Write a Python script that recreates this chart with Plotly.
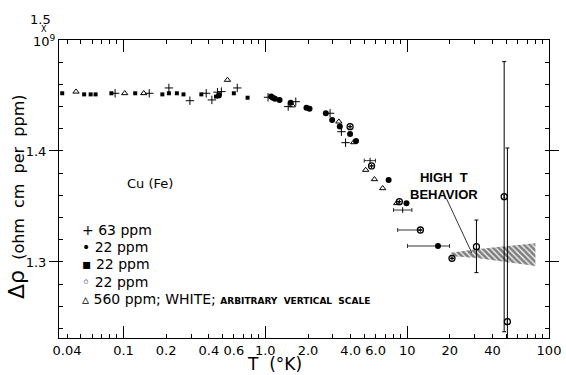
import plotly.graph_objects as go

# ---------------- data ----------------
# 22 ppm, small filled squares
sq_T = [0.037, 0.0528, 0.0587, 0.0636, 0.0822, 0.121, 0.188, 0.209, 0.238, 0.265, 0.354, 0.449, 0.600, 0.750]
sq_y = [1.452, 1.451, 1.451, 1.451, 1.452, 1.452, 1.451, 1.452, 1.452, 1.451, 1.451, 1.449, 1.452, 1.448]

# 22 ppm, filled circles
fc_T = [0.47, 1.10, 1.13, 1.17, 1.26, 1.51, 1.95, 2.05, 2.67, 2.96, 3.35, 3.96, 4.36, 7.40, 9.89, 16.5]
fc_y = [1.450, 1.449, 1.448, 1.447, 1.446, 1.4435, 1.439, 1.438, 1.434, 1.428, 1.422, 1.4153, 1.409, 1.3739, 1.3529, 1.3144]
fc_xerr_minus = [0, 0, 0, 0, 0, 0, 0, 0, 0, 0, 0, 0, 0, 0, 0, 6.45]
fc_xerr_plus = [0, 0, 0, 0, 0, 0, 0, 0, 0, 0, 0, 0, 0, 0, 0, 3.4]

# 560 ppm, open triangles
tri_T = [0.0463, 0.102, 0.139, 0.541, 1.55, 3.30, 4.20, 5.10, 5.88, 6.72, 8.44]
tri_y = [1.4534, 1.452, 1.452, 1.464, 1.441, 1.4264, 1.4078, 1.3829, 1.3745, 1.3664, 1.3529]

# 63 ppm, plus signs
plus_T = [0.0873, 0.152, 0.209, 0.294, 0.383, 0.42, 0.46, 0.49, 0.634, 1.045, 1.45, 1.64, 2.86, 3.44, 3.68]
plus_y = [1.452, 1.452, 1.4568, 1.4453, 1.452, 1.446, 1.453, 1.4535, 1.4568, 1.4484, 1.440, 1.4444, 1.434, 1.4174, 1.4075]

# 22 ppm, open circles
oc_T = [3.96, 5.61, 8.81, 12.4, 20.7, 30.8, 48.3, 50.9]
oc_y = [1.4219, 1.3865, 1.3543, 1.3288, 1.3033, 1.3138, 1.3588, 1.2462]
oc_yerr_plus = [0, 0, 0, 0, 0, 0.0240, 0.1217, 0.1565]
oc_yerr_minus = [0, 0, 0, 0, 0, 0.0234, 0.1217, 0.20]
oc_xerr_minus = [0, 0, 0, 3.83, 0, 0, 0, 0]

# free-standing temperature-uncertainty bars
xb_T = [5.48, 9.3]
xb_y = [1.3913, 1.3468]
xb_minus = [0.50, 1.28]
xb_plus = [0.50, 1.5]

# "high T behavior" band
band_T = [20.2, 30.8, 80.2]
band_hi = [1.3084, 1.3115, 1.3168]
band_lo = [1.3054, 1.3035, 1.2964]

# axis labels
x_tick_vals = [0.04, 0.1, 0.2, 0.4, 0.6, 1.0, 2.0, 4.0, 6.0, 10, 20, 40, 100]
x_tick_text = ["0.04", "0.1", "0.2", "0.4", "0.6", "1.0", "2.0", "4.0", "6.0", "10", "20", "40", "100"]
x_minor_vals = [d * m for m in (0.01, 0.1, 1, 10) for d in range(1, 10)] + [100]
x_major_marks = [0.1, 1, 10]
y_tick_vals = [1.3, 1.4]
y_tick_text = ["1.3", "1.4"]
y_minor_vals = [round(1.24 + 0.02 * i, 2) for i in range(13)]

FONT = "DejaVu Sans"
XR = [-1.4545, 2.0]
YR = [1.2315, 1.5]

fig = go.Figure()

# hatched band (drawn on overlay x axis, same scale)
fig.add_trace(go.Scatter(
    x=band_T + band_T[::-1], y=band_hi + band_lo[::-1],
    xaxis="x2", yaxis="y",
    mode="lines", fill="toself", line=dict(width=0, color="black"),
    fillcolor="rgba(0,0,0,0)",
    fillpattern=dict(shape="\\", fgcolor="black", bgcolor="rgba(0,0,0,0)",
                     size=4, solidity=0.7, fillmode="overlay"),
    hoverinfo="skip", showlegend=False))

fig.add_trace(go.Scatter(
    x=xb_T, y=xb_y, mode="markers",
    marker=dict(symbol="line-ns", size=4, line=dict(width=1, color="black")),
    error_x=dict(type="data", symmetric=False, array=xb_plus, arrayminus=xb_minus,
                 color="black", thickness=0.8, width=2),
    showlegend=False))

fig.add_trace(go.Scatter(
    x=sq_T, y=sq_y, mode="markers",
    marker=dict(symbol="square", size=4, color="black"), showlegend=False))

fig.add_trace(go.Scatter(
    x=fc_T, y=fc_y, mode="markers",
    marker=dict(symbol="circle", size=6, color="black"),
    error_x=dict(type="data", symmetric=False, array=fc_xerr_plus, arrayminus=fc_xerr_minus,
                 color="black", thickness=0.8, width=2),
    showlegend=False))

fig.add_trace(go.Scatter(
    x=tri_T, y=tri_y, mode="markers",
    marker=dict(symbol="triangle-up-open", size=5.5, color="black", line=dict(width=1)),
    showlegend=False))

fig.add_trace(go.Scatter(
    x=plus_T, y=plus_y, mode="markers",
    marker=dict(symbol="cross-thin-open", size=6, color="black", line=dict(width=1, color="black")),
    showlegend=False))

fig.add_trace(go.Scatter(
    x=oc_T, y=oc_y, mode="markers",
    marker=dict(symbol="circle-open", size=6, color="black", line=dict(width=1.3)),
    error_y=dict(type="data", symmetric=False, array=oc_yerr_plus, arrayminus=oc_yerr_minus,
                 color="black", thickness=1, width=2),
    error_x=dict(type="data", symmetric=False, array=[0] * len(oc_T), arrayminus=oc_xerr_minus,
                 color="black", thickness=0.8, width=2),
    showlegend=False))


def px(xp):
    return (xp - 59) / 502


def py(yp):
    return (338 - yp) / 298


def note(x, y, text, size, xanchor="center", family=FONT, **kw):
    d = dict(x=px(x), y=py(y), xref="paper", yref="paper", text=text, showarrow=False,
             xanchor=xanchor, yanchor="middle", borderpad=0,
             font=dict(family=family, size=size, color="black"))
    d.update(kw)
    return d


ann = []
# "1.5 x 10^9" corner label
ann.append(note(40, 19, "1.5", 13))
ann.append(note(44, 29, "X", 8))
ann.append(note(44, 41, "10<sup>9</sup>", 13))
# axis titles
ann.append(note(15, 197, "<span style='font-size:22px'>Δρ</span>  (ohm  cm  per  ppm)", 16, textangle=-90))
ann.append(note(280, 364, "T  (°K)", 17))
# sample label
ann.append(note(152, 183, "Cu (Fe)", 13))
# legend
legend_rows = [
    ("+", "63 ppm"),
    ("•", "22 ppm"),
    ("▪", "22 ppm"),
    ("◦", "22 ppm"),
    ("▵", "560 ppm; WHITE; <span style='font-size:9px'><b>ARBITRARY  VERTICAL  SCALE</b></span>"),
]
for i, (sym, txt) in enumerate(legend_rows):
    ann.append(note(82, 230 + 17.2 * i, sym + " " + txt, 14, xanchor="left"))
# high T behaviour label + pointer
ann.append(note(453, 186, "<b>HIGH  T<br>BEHAVIOR</b>", 13, family="Liberation Sans", align="center"))
ann.append(dict(x=1.456, y=1.3081, xref="x", yref="y", ax=1.272, ay=1.3585, axref="x", ayref="y",
                text="", showarrow=True, arrowhead=0, arrowwidth=0.8, arrowcolor="black"))

fig.update_layout(
    width=566, height=375, autosize=False,
    margin=dict(l=59, r=5, t=40, b=37),
    paper_bgcolor="white", plot_bgcolor="white",
    font=dict(family=FONT, size=13, color="black"),
    showlegend=False,
    annotations=ann,
    xaxis=dict(type="log", range=XR, tickmode="array", tickvals=x_tick_vals, ticktext=x_tick_text,
               ticks="", showline=True, linecolor="black", linewidth=1, mirror=True,
               showgrid=False, zeroline=False, tickfont=dict(family=FONT, size=13, color="black")),
    xaxis2=dict(type="log", range=XR, overlaying="x", anchor="y", side="bottom",
                tickmode="array", tickvals=x_major_marks, ticks="inside", ticklen=12,
                tickcolor="black", tickwidth=1, showticklabels=False, mirror="ticks",
                showline=False, showgrid=False, zeroline=False,
                minor=dict(tickmode="array", tickvals=x_minor_vals, ticks="inside", ticklen=4,
                           tickcolor="black", tickwidth=1, showgrid=False)),
    yaxis=dict(range=YR, tickmode="array", tickvals=y_tick_vals, ticktext=y_tick_text,
               ticks="outside", ticklen=9, tickcolor="black", tickwidth=1,
               showline=True, linecolor="black", linewidth=1, mirror="ticks",
               showgrid=False, zeroline=False, tickfont=dict(family=FONT, size=13, color="black"),
               minor=dict(tickmode="array", tickvals=y_minor_vals, ticks="inside", ticklen=4,
                          tickcolor="black", tickwidth=1, showgrid=False)),
)

fig.write_html("out.html")
